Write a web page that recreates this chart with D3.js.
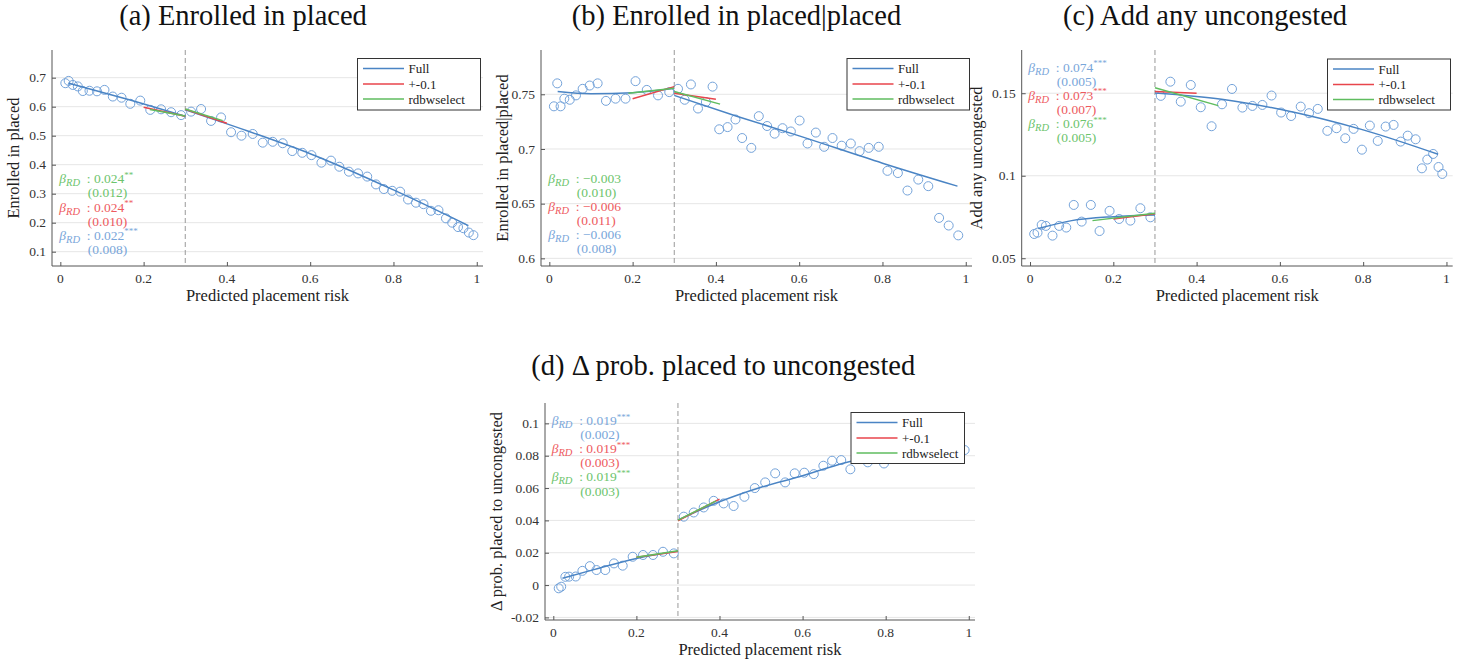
<!DOCTYPE html>
<html>
<head>
<meta charset="utf-8">
<script src="https://cdn.jsdelivr.net/npm/d3@7"></script>
<style>
  body { margin: 0; background: #fff; }
  svg { display: block; }
  text { font-family: "Liberation Serif", "Times New Roman", serif; }
</style>
</head>
<body>
<svg id="fig" width="1468" height="665"></svg>
<script>
// ---------- shared ticks ----------
const xTicks = [0, 0.2, 0.4, 0.6, 0.8, 1];
const cutoff = 0.3;
const legendLabels = ["Full", "+-0.1", "rdbwselect"];

// ---------- (a) Enrolled in placed ----------
const yTicksA = [0.1, 0.2, 0.3, 0.4, 0.5, 0.6, 0.7];
const pointsA = [
  [0.012,0.681],[0.02,0.689],[0.03,0.675],[0.042,0.670],[0.054,0.654],[0.07,0.655],[0.088,0.653],
  [0.106,0.658],[0.126,0.635],[0.147,0.631],[0.168,0.610],[0.192,0.621],[0.216,0.589],[0.242,0.591],
  [0.266,0.581],[0.29,0.571],[0.314,0.583],[0.338,0.592],[0.362,0.551],[0.386,0.563],[0.41,0.512],
  [0.435,0.500],[0.462,0.506],[0.486,0.476],[0.51,0.479],[0.534,0.474],[0.557,0.447],[0.581,0.441],
  [0.603,0.433],[0.627,0.407],[0.65,0.414],[0.67,0.393],[0.693,0.376],[0.715,0.370],[0.737,0.359],
  [0.758,0.332],[0.777,0.316],[0.797,0.310],[0.816,0.307],[0.835,0.280],[0.854,0.269],[0.872,0.264],
  [0.89,0.241],[0.908,0.243],[0.926,0.215],[0.941,0.200],[0.955,0.185],[0.968,0.181],[0.981,0.166],
  [0.992,0.157]
];
const fullLeftA  = [[0.02,0.681],[0.15,0.630],[0.3,0.567]];
const fullRightA = [[0.3,0.589],[0.45,0.516],[0.6,0.438],[0.8,0.313],[0.98,0.190]];
const bw01LeftA  = [[0.2,0.598],[0.3,0.567]];
const bw01RightA = [[0.3,0.591],[0.4,0.543]];
const rdbwLeftA  = [[0.215,0.590],[0.3,0.568]];
const rdbwRightA = [[0.3,0.592],[0.39,0.552]];
const estimatesA = [
  { fit: "rdbw", coef: "0.024", stars: "**",  se: "(0.012)" },
  { fit: "bw01", coef: "0.024", stars: "**",  se: "(0.010)" },
  { fit: "full", coef: "0.022", stars: "***", se: "(0.008)" }
];

// ---------- (b) Enrolled in placed|placed ----------
const yTicksB = [0.6, 0.65, 0.7, 0.75];
const pointsB = [
  [0.011,0.739],[0.019,0.760],[0.027,0.739],[0.036,0.746],[0.049,0.745],[0.064,0.749],[0.08,0.755],
  [0.097,0.758],[0.116,0.760],[0.136,0.744],[0.159,0.746],[0.183,0.746],[0.207,0.762],[0.234,0.754],
  [0.261,0.749],[0.288,0.752],[0.309,0.755],[0.325,0.745],[0.34,0.759],[0.357,0.737],[0.376,0.743],
  [0.392,0.757],[0.408,0.718],[0.428,0.720],[0.447,0.727],[0.463,0.710],[0.485,0.701],[0.503,0.730],
  [0.523,0.721],[0.541,0.714],[0.56,0.719],[0.58,0.716],[0.601,0.726],[0.62,0.705],[0.64,0.715],
  [0.66,0.702],[0.68,0.710],[0.702,0.703],[0.724,0.705],[0.745,0.698],[0.767,0.701],[0.791,0.702],
  [0.812,0.680],[0.837,0.678],[0.86,0.662],[0.886,0.672],[0.91,0.666],[0.936,0.637],[0.959,0.630],
  [0.982,0.621]
];
const fullLeftB  = [[0.02,0.7525],[0.1,0.7505],[0.2,0.7515],[0.3,0.7555]];
const fullRightB = [[0.3,0.749],[0.45,0.730],[0.6,0.712],[0.8,0.687],[0.98,0.666]];
const bw01LeftB  = [[0.2,0.746],[0.3,0.757]];
const bw01RightB = [[0.3,0.751],[0.4,0.7454]];
const rdbwLeftB  = [[0.19,0.751],[0.3,0.7555]];
const rdbwRightB = [[0.3,0.7525],[0.41,0.741]];
const estimatesB = [
  { fit: "rdbw", coef: "\u22120.003", stars: "", se: "(0.010)" },
  { fit: "bw01", coef: "\u22120.006", stars: "", se: "(0.011)" },
  { fit: "full", coef: "\u22120.006", stars: "", se: "(0.008)" }
];

// ---------- (c) Add any uncongested ----------
const yTicksC = [0.05, 0.1, 0.15];
const pointsC = [
  [0.01,0.0647],[0.018,0.0655],[0.028,0.0702],[0.038,0.0696],[0.054,0.0637],[0.07,0.0696],
  [0.087,0.0686],[0.105,0.0823],[0.124,0.0722],[0.146,0.0823],[0.167,0.0665],[0.191,0.0787],
  [0.214,0.0738],[0.241,0.0728],[0.265,0.0803],[0.289,0.0748],[0.314,0.1484],[0.337,0.1570],
  [0.362,0.1449],[0.386,0.1550],[0.41,0.1415],[0.436,0.1300],[0.461,0.1433],[0.485,0.1526],
  [0.51,0.1413],[0.534,0.1423],[0.558,0.1429],[0.58,0.1486],[0.603,0.1383],[0.627,0.1362],
  [0.65,0.1419],[0.67,0.1379],[0.691,0.1405],[0.714,0.1272],[0.736,0.1288],[0.757,0.1227],
  [0.777,0.1284],[0.797,0.1158],[0.816,0.1304],[0.835,0.1211],[0.854,0.1298],[0.873,0.1308],
  [0.89,0.1207],[0.907,0.1243],[0.926,0.1221],[0.941,0.1045],[0.954,0.1098],[0.968,0.1132],
  [0.981,0.1053],[0.99,0.1011]
];
const fullLeftC  = [[0.02,0.0680],[0.1,0.0728],[0.2,0.0752],[0.3,0.0762]];
const fullRightC = [[0.3,0.1502],[0.46,0.1464],[0.6,0.1403],[0.8,0.1278],[0.98,0.1130]];
const bw01LeftC  = [[0.2,0.0738],[0.3,0.0770]];
const bw01RightC = [[0.3,0.1510],[0.4,0.1500]];
const rdbwLeftC  = [[0.15,0.0728],[0.3,0.0773]];
const rdbwRightC = [[0.3,0.1533],[0.452,0.1425]];
const estimatesC = [
  { fit: "full", coef: "0.074", stars: "***", se: "(0.005)" },
  { fit: "bw01", coef: "0.073", stars: "***", se: "(0.007)" },
  { fit: "rdbw", coef: "0.076", stars: "***", se: "(0.005)" }
];

// ---------- (d) Δ prob. placed to uncongested ----------
const yTicksD = [-0.02, 0, 0.02, 0.04, 0.06, 0.08, 0.1];
const pointsD = [
  [0.013,-0.0020],[0.019,-0.0010],[0.029,0.0051],[0.038,0.0052],[0.054,0.0053],[0.07,0.0088],
  [0.088,0.0117],[0.104,0.0093],[0.125,0.0093],[0.146,0.0134],[0.167,0.0120],[0.191,0.0175],
  [0.216,0.0186],[0.24,0.0186],[0.264,0.0206],[0.29,0.0196],[0.314,0.0423],[0.338,0.0449],
  [0.362,0.0480],[0.386,0.0521],[0.41,0.0505],[0.434,0.0489],[0.46,0.0546],[0.485,0.0600],
  [0.51,0.0635],[0.534,0.0691],[0.558,0.0635],[0.581,0.0691],[0.604,0.0695],[0.627,0.0686],
  [0.65,0.0738],[0.671,0.0769],[0.693,0.0773],[0.715,0.0716],[0.737,0.0815],[0.757,0.0759],
  [0.777,0.0820],[0.796,0.0752],[0.816,0.0830],[0.85,0.0840],[0.88,0.0850],[0.91,0.0860],
  [0.94,0.0850],[0.965,0.0870],[0.99,0.0835]
];
const fullLeftD  = [[0.022,0.0042],[0.1,0.0097],[0.2,0.0165],[0.3,0.0210]];
const fullRightD = [[0.3,0.0402],[0.4,0.0515],[0.5,0.0605],[0.6,0.0676],[0.7,0.0755],[0.8,0.0810],[0.98,0.0880]];
const bw01LeftD  = [[0.2,0.0172],[0.3,0.0208]];
const bw01RightD = [[0.3,0.0398],[0.4,0.0532]];
const rdbwLeftD  = [[0.2,0.0172],[0.3,0.0212]];
const rdbwRightD = [[0.3,0.0402],[0.392,0.0521]];
const estimatesD = [
  { fit: "full", coef: "0.019", stars: "***", se: "(0.002)" },
  { fit: "bw01", coef: "0.019", stars: "***", se: "(0.003)" },
  { fit: "rdbw", coef: "0.019", stars: "***", se: "(0.003)" }
];

// ---------- styling ----------
const colors = {
  full: { line: "#4a84c4", text: "#79a6da" },
  bw01: { line: "#e8454b", text: "#ee5a5e" },
  rdbw: { line: "#5fbd5f", text: "#6cc46c" }
};
const markerColor = "#74a3da";
const fitOrder = ["full", "bw01", "rdbw"];

const panels = [
  { title: "(a) Enrolled in placed", titleX: 243, titleY: 25, ylabel: "Enrolled in placed",
    left: 52, top: 50, width: 431, height: 216, yDomain: [0.0507, 0.7955], yTicks: yTicksA,
    tickFmt: d => d3.format(".1f")(d), ylabelOff: 33.5,
    points: pointsA,
    fits: { full: [fullLeftA, fullRightA], bw01: [bw01LeftA, bw01RightA], rdbw: [rdbwLeftA, rdbwRightA] },
    est: estimatesA, estX: 59.3, estY: 183.3,
    legend: { x: 357.5, y: 58.5, w: 123, h: 51.5 } },
  { title: "(b) Enrolled in placed|placed", titleX: 736.5, titleY: 25, ylabel: "Enrolled in placed|placed",
    left: 541, top: 50, width: 431, height: 216, yDomain: [0.593, 0.7905], yTicks: yTicksB,
    tickFmt: d => String(+d.toFixed(2)), ylabelOff: 33.5,
    points: pointsB,
    fits: { full: [fullLeftB, fullRightB], bw01: [bw01LeftB, bw01RightB], rdbw: [rdbwLeftB, rdbwRightB] },
    est: estimatesB, estX: 548.3, estY: 182.7,
    legend: { x: 847, y: 58.5, w: 122.5, h: 51.5 } },
  { title: "(c) Add any uncongested", titleX: 1205, titleY: 25, ylabel: "Add any uncongested",
    left: 1021.7, top: 50, width: 431, height: 216, yDomain: [0.0453, 0.1762], yTicks: yTicksC,
    tickFmt: d => String(+d.toFixed(2)), ylabelOff: 39.7,
    points: pointsC,
    fits: { full: [fullLeftC, fullRightC], bw01: [bw01LeftC, bw01RightC], rdbw: [rdbwLeftC, rdbwRightC] },
    est: estimatesC, estX: 1028.3, estY: 71.7,
    legend: { x: 1327.5, y: 59, w: 123, h: 51 } },
  { title: "(d) \u0394 prob.  placed to uncongested", titleX: 723.3, titleY: 375, ylabel: "\u0394 prob.  placed to uncongested",
    left: 545, top: 403, width: 430, height: 217, yDomain: [-0.0216, 0.1126], yTicks: yTicksD,
    tickFmt: d => d === 0 ? "0" : String(+d.toFixed(2)).replace("\u2212", "-"), ylabelOff: 43.5,
    points: pointsD,
    fits: { full: [fullLeftD, fullRightD], bw01: [bw01LeftD, bw01RightD], rdbw: [rdbwLeftD, rdbwRightD] },
    est: estimatesD, estX: 551.7, estY: 425,
    legend: { x: 851, y: 412.5, w: 113.5, h: 51 } }
];

const svg = d3.select("#fig");
svg.append("rect").attr("width", 1468).attr("height", 665).attr("fill", "#fff");

panels.forEach((p, i) => {
  const g = svg.append("g").attr("class", "panel");
  const x = d3.scaleLinear().domain([-0.02, 1.015]).range([p.left, p.left + p.width]);
  const y = d3.scaleLinear().domain(p.yDomain).range([p.top + p.height, p.top]);
  const right = p.left + p.width, bottom = p.top + p.height;

  // clip region for marks
  const clipId = "clip" + i;
  g.append("clipPath").attr("id", clipId).append("rect")
    .attr("x", p.left).attr("y", p.top).attr("width", p.width).attr("height", p.height);

  // title
  g.append("text").attr("x", p.titleX).attr("y", p.titleY).attr("text-anchor", "middle")
    .style("font-size", "28.5px").attr("fill", "#111").text(p.title);

  // horizontal grid
  g.append("g").selectAll("line").data(p.yTicks).join("line")
    .attr("x1", p.left).attr("x2", right)
    .attr("y1", d => y(d)).attr("y2", d => y(d))
    .attr("stroke", "#e6e6e6").attr("stroke-width", 1);

  // axes with inward ticks
  const yAxis = d3.axisRight(y).tickValues(p.yTicks).tickSize(4).tickFormat("");
  const xAxis = d3.axisTop(x).tickValues(xTicks).tickSize(4).tickFormat("");
  const ya = g.append("g").attr("transform", `translate(${p.left},0)`).call(yAxis);
  const xa = g.append("g").attr("transform", `translate(0,${bottom})`).call(xAxis);
  [ya, xa].forEach(a => {
    a.select(".domain").remove();
    a.selectAll(".tick line").attr("stroke", "#555");
  });
  g.append("line").attr("x1", p.left).attr("x2", p.left).attr("y1", p.top).attr("y2", bottom)
    .attr("stroke", "#555").attr("stroke-width", 1);
  g.append("line").attr("x1", p.left).attr("x2", right).attr("y1", bottom).attr("y2", bottom)
    .attr("stroke", "#555").attr("stroke-width", 1);

  // tick labels
  g.append("g").selectAll("text").data(p.yTicks).join("text")
    .attr("x", p.left - 6).attr("y", d => y(d)).attr("dy", "0.34em")
    .attr("text-anchor", "end").style("font-size", "13.5px").attr("fill", "#333")
    .text(p.tickFmt);
  g.append("g").selectAll("text").data(xTicks).join("text")
    .attr("x", d => x(d)).attr("y", bottom + 16.5)
    .attr("text-anchor", "middle").style("font-size", "13.5px").attr("fill", "#333")
    .text(d => String(d));

  // axis labels
  g.append("text").attr("x", (p.left + right) / 2).attr("y", bottom + 35)
    .attr("text-anchor", "middle").style("font-size", "16.5px").attr("fill", "#222")
    .text("Predicted placement risk");
  g.append("text")
    .attr("transform", `translate(${p.left - p.ylabelOff},${(p.top + bottom) / 2}) rotate(-90)`)
    .attr("text-anchor", "middle").style("font-size", "16.5px").attr("fill", "#222")
    .text(p.ylabel);

  // cutoff line
  g.append("line").attr("x1", x(cutoff)).attr("x2", x(cutoff)).attr("y1", p.top).attr("y2", bottom)
    .attr("stroke", "#999").attr("stroke-width", 1).attr("stroke-dasharray", "5,3");

  // binned scatter
  g.append("g").attr("clip-path", `url(#${clipId})`).selectAll("circle").data(p.points).join("circle")
    .attr("cx", d => x(d[0])).attr("cy", d => y(d[1])).attr("r", 4.5)
    .attr("fill", "none").attr("stroke", markerColor).attr("stroke-width", 1);

  // fitted polynomials on each side of the cutoff
  const line = d3.line().x(d => x(d[0])).y(d => y(d[1])).curve(d3.curveMonotoneX);
  const fitG = g.append("g").attr("clip-path", `url(#${clipId})`);
  fitOrder.forEach(k => {
    p.fits[k].forEach(seg => {
      fitG.append("path").attr("d", line(seg)).attr("fill", "none")
        .attr("stroke", colors[k].line).attr("stroke-width", 1.5);
    });
  });

  // RD estimates
  p.est.forEach((e, j) => {
    const by = p.estY + j * 2 * 14.1;
    const c = colors[e.fit].text;
    const t = g.append("text").attr("x", p.estX).attr("y", by).attr("fill", c).style("font-size", "13.5px");
    t.append("tspan").attr("font-style", "italic").text("\u03B2");
    t.append("tspan").attr("font-style", "italic").style("font-size", "10.5px").attr("dy", 3).text("RD");
    t.append("tspan").attr("x", p.estX + 27.5).attr("dy", -3).text(": " + e.coef);
    if (e.stars) t.append("tspan").style("font-size", "9px").attr("dy", -5.5).text(e.stars);
    g.append("text").attr("x", p.estX + 28.5).attr("y", by + 14.1).attr("fill", c)
      .style("font-size", "13.5px").text(e.se);
  });

  // legend
  const L = p.legend;
  const lg = g.append("g");
  lg.append("rect").attr("x", L.x).attr("y", L.y).attr("width", L.w).attr("height", L.h)
    .attr("fill", "#fff").attr("stroke", "#333").attr("stroke-width", 1);
  const rows = [10, 25.5, 40.5];
  fitOrder.forEach((k, j) => {
    const ry = L.y + rows[j];
    lg.append("line").attr("x1", L.x + 5.5).attr("x2", L.x + 46.5).attr("y1", ry).attr("y2", ry)
      .attr("stroke", colors[k].line).attr("stroke-width", 1.5);
    lg.append("text").attr("x", L.x + 51).attr("y", ry + 4.5).style("font-size", "13px")
      .attr("fill", "#222").text(legendLabels[j]);
  });
});
</script>
</body>
</html>
